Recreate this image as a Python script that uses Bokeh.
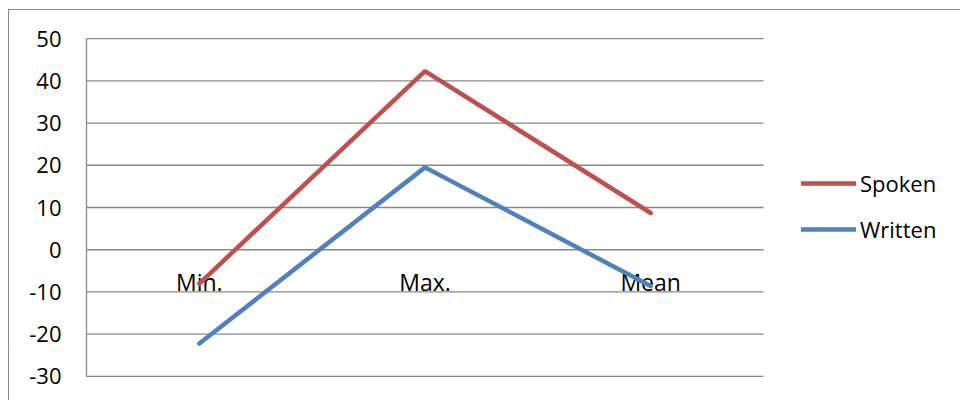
from bokeh.plotting import figure
from bokeh.models import (Range1d, Legend, LegendItem, FixedTicker, ColumnDataSource,
                          PrintfTickFormatter)
from bokeh.core.properties import value
from bokeh.embed import file_html
from bokeh.resources import INLINE

categories = ["Min.", "Max.", "Mean"]
spoken = [-8.0, 42.3, 8.7]
written = [-22.2, 19.5, -8.6]
y_ticks = [-30, -20, -10, 0, 10, 20, 30, 40, 50]

FONT = "Open Sans"
GRID = "#888888"

# categories are placed at their index on a numeric x scale
xpos = list(range(len(categories)))
x_lo = xpos[0] - 0.5
x_hi = xpos[-1] + 0.5
data_px = 677.0           # pixel width of the category area
frame_px = 875.0          # frame runs on to the right edge to hold the legend
x_end = x_lo + (x_hi - x_lo) * frame_px / data_px

p = figure(width=952, height=391, output_backend="svg", toolbar_location=None,
           x_range=Range1d(x_lo, x_end),
           y_range=Range1d(y_ticks[0] - 0.25, y_ticks[-1] + 0.25),
           min_border_left=77, min_border_right=0, min_border_top=27,
           min_border_bottom=24)
p.margin = (9, 0, 0, 8)
p.styles = {"border-left": "1px solid #888888", "border-top": "1px solid #888888"}
p.outline_line_color = None
p.background_fill_color = "white"
p.border_fill_color = "white"

p.xaxis.visible = False
p.xgrid.visible = False
p.ygrid.visible = False

ya = p.yaxis[0]
ya.ticker = FixedTicker(ticks=y_ticks)
ya.formatter = PrintfTickFormatter(format="%d")
ya.bounds = (y_ticks[0], y_ticks[-1])
ya.axis_line_color = GRID
ya.axis_line_width = 1.3
ya.major_tick_line_color = None
ya.minor_tick_line_color = None
ya.major_tick_out = 0
ya.major_tick_in = 0
ya.major_label_standoff = 25
ya.major_label_text_font = FONT
ya.major_label_text_font_size = "22px"
ya.major_label_text_color = "black"

# horizontal gridlines across the category area only
p.segment(x0=[x_lo] * len(y_ticks), x1=[x_hi] * len(y_ticks), y0=y_ticks, y1=y_ticks,
          line_color=GRID, line_width=1.3)

src = ColumnDataSource(dict(x=xpos, y=[0] * len(categories), t=categories))
p.text(x="x", y="y", text="t", source=src, text_align="center",
       text_baseline="alphabetic", y_offset=32, text_font=value(FONT),
       text_font_size="23px", text_color="black")

r_sp = p.line(xpos, spoken, line_color="#C0504D", line_width=4.5, line_cap="round")
r_wr = p.line(xpos, written, line_color="#4F81BD", line_width=4.5, line_cap="round")

legend = Legend(items=[LegendItem(label="Spoken", renderers=[r_sp]),
                       LegendItem(label="Written", renderers=[r_wr])],
                location=(715, 133), padding=0, margin=0, spacing=16,
                glyph_width=55, glyph_height=20, label_height=20,
                label_standoff=4, border_line_alpha=0, background_fill_alpha=0,
                label_text_font=FONT, label_text_font_size="22px",
                label_text_color="black")
p.add_layout(legend)

open("out.html", "w").write(file_html(p, INLINE))
